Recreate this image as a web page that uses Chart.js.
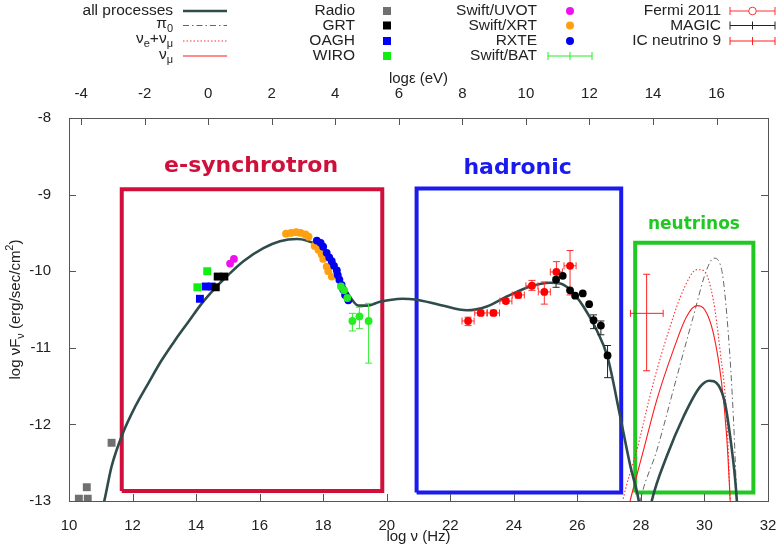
<!DOCTYPE html>
<html>
<head>
<meta charset="utf-8">
<script src="https://cdn.jsdelivr.net/npm/chart.js@4.4.1/dist/chart.umd.min.js"></script>
<style>
  html, body { margin: 0; padding: 0; background: #fff; }
  #wrap { width: 779px; height: 548px; }
</style>
</head>
<body>
<div id="wrap"><canvas id="sed" width="779" height="548"></canvas></div>
<script>
// ---- observed points (log nu [Hz], log nuFnu [erg/s/cm2]) ----
const radioNu = [10.31, 10.56, 10.59, 11.34];
const radioF  = [-12.97, -12.82, -12.97, -12.24];

const grtNu = [14.62, 14.68, 14.89];
const grtF  = [-10.21, -10.07, -10.07];

const oaghNu = [14.12, 14.30, 14.49];
const oaghF  = [-10.36, -10.20, -10.20];

const wiroNu = [14.04, 14.35];
const wiroF  = [-10.21, -10.00];

const uvotNu = [15.07, 15.19];
const uvotF  = [-9.90, -9.84];

const xrtNu = [16.83, 16.99, 17.15, 17.29, 17.44, 17.54, 17.73, 17.85, 17.95, 18.00, 18.11, 18.16, 18.27];
const xrtF  = [-9.51, -9.50, -9.49, -9.50, -9.52, -9.55, -9.67, -9.72, -9.78, -9.84, -9.94, -10.00, -10.07];

const rxteNu = [17.80, 17.92, 18.00, 18.11, 18.19, 18.27, 18.34, 18.43, 18.46, 18.51, 18.58, 18.63, 18.69, 18.79];
const rxteF  = [-9.60, -9.63, -9.68, -9.76, -9.82, -9.87, -9.93, -9.99, -10.05, -10.11, -10.18, -10.24, -10.31, -10.38];

const batNu  = [18.56, 18.66, 18.76, 18.92, 19.14, 19.43];
const batF   = [-10.20, -10.25, -10.35, -10.65, -10.59, -10.65];
const batFLo = [null, null, null, -10.78, -10.75, -11.20];
const batFHi = [null, null, null, -10.55, -10.47, -10.42];

const fermiNu   = [22.56, 22.96, 23.36, 23.75, 24.14, 24.57, 24.96, 25.34, 25.77];
const fermiF    = [-10.65, -10.545, -10.545, -10.39, -10.31, -10.19, -10.27, -10.01, -9.93];
const fermiFLo  = [-10.71, -10.58, -10.58, -10.42, -10.35, -10.25, -10.43, -10.16, -10.31];
const fermiFHi  = [-10.60, -10.51, -10.51, -10.36, -10.27, -10.12, -10.14, -9.875, -9.73];
const fermiNuLo = [22.37, 22.77, 23.17, 23.56, 23.95, 24.38, 24.77, 25.15, 25.58];
const fermiNuHi = [22.75, 23.15, 23.55, 23.94, 24.33, 24.76, 25.15, 25.53, 25.96];

const magicNu  = [25.33, 25.54, 25.77, 25.93, 26.17, 26.37, 26.51, 26.74, 26.95];
const magicF   = [-10.11, -10.06, -10.25, -10.32, -10.29, -10.43, -10.64, -10.71, -11.10];
const magicFLo = [-10.21, null, null, null, null, null, -10.75, -10.83, -11.39];
const magicFHi = [-10.08, null, null, null, null, null, -10.57, -10.65, -10.97];

const icNu = [28.18], icF = [-10.55];
const icNuLo = [27.67], icNuHi = [28.70];
const icFLo = [-11.30], icFHi = [-10.04];

// ---- model curves ----
const allNu = [10.95, 11.11, 11.34, 11.71, 12.08, 12.50, 12.92, 13.34, 13.76, 14.18, 14.60, 15.01, 15.49, 16.12, 16.64, 17.17,
  17.48, 17.80, 18.21, 18.53, 18.84, 19.11, 19.37, 19.79, 20.10, 20.50, 20.89, 21.68, 22.52, 23.15, 23.78, 24.51,
  25.14, 25.46, 25.77, 26.19, 26.61, 26.95, 27.34, 27.66, 27.92, 28.08, 28.20, 28.34, 28.81, 29.34, 29.86, 30.15,
  30.44, 30.65, 30.81, 30.96, 31.02, 31.06];
const allF = [-13.25, -13.0, -12.55, -12.10, -11.77, -11.46, -11.16, -10.90, -10.66, -10.42, -10.22, -10.05, -9.87, -9.70, -9.61, -9.58,
  -9.60, -9.66, -9.87, -10.11, -10.33, -10.45, -10.45, -10.40, -10.375, -10.36, -10.37, -10.44, -10.51, -10.46, -10.33, -10.20,
  -10.15, -10.16, -10.24, -10.46, -10.77, -11.12, -11.88, -12.53, -12.97, -13.4, -13.3, -13.0, -12.42, -11.90, -11.51, -11.43,
  -11.49, -11.73, -12.16, -12.69, -13.0, -13.3];

const pi0Nu = [27.90, 27.98, 28.50, 29.13, 29.65, 30.07, 30.30, 30.54, 30.75, 30.91, 31.02, 31.05];
const pi0F  = [-13.2, -13.0, -12.34, -11.38, -10.59, -9.98, -9.83, -9.98, -10.81, -11.90, -13.0, -13.3];

const nuSumNu = [27.35, 27.43, 27.87, 28.39, 28.92, 29.34, 29.76, 29.97, 30.28, 30.49, 30.70, 30.81, 30.84];
const nuSumF  = [-13.2, -13.0, -12.34, -11.46, -10.72, -10.24, -9.98, -9.99, -10.38, -11.03, -11.90, -13.0, -13.3];

const numuNu = [27.55, 27.66, 28.08, 28.50, 29.02, 29.44, 29.76, 30.02, 30.28, 30.54, 30.70, 30.81, 30.84];
const numuF  = [-13.2, -13.0, -12.34, -11.68, -11.03, -10.59, -10.45, -10.51, -10.81, -11.46, -12.16, -13.0, -13.3];

// ---- axes ----
const nuTicks = [10, 12, 14, 16, 18, 20, 22, 24, 26, 28, 30, 32];
const epsTicks = [-4, -2, 0, 2, 4, 6, 8, 10, 12, 14, 16];
const fluxTicks = [-13, -12, -11, -10, -9, -8];
const logH = -14.38; // log10 of Planck constant in eV s

// region boxes [nuMin, nuMax, fMin, fMax]
const synBox = [11.66, 19.86, -12.87, -8.93];
const hadBox = [20.94, 27.38, -12.89, -8.92];
const neuBox = [27.82, 31.54, -12.89, -9.63];

const pts = (xs, ys) => xs.map((x, i) => ({ x: x, y: ys[i] }));
const boxPts = b => [{x: b[0], y: b[2]}, {x: b[1], y: b[2]}, {x: b[1], y: b[3]}, {x: b[0], y: b[3]}, {x: b[0], y: b[2]}];

const FONT = "'Liberation Sans', Arial, sans-serif";
Chart.defaults.font.family = FONT;
Chart.defaults.color = '#222';

function dots(data, color, style, r) {
  return { data: data, showLine: false, pointStyle: style, pointRadius: r, pointHoverRadius: r,
    backgroundColor: color, borderColor: color, borderWidth: 0 };
}
function curve(data, color, w, dash) {
  return { data: data, showLine: true, pointRadius: 0, borderColor: color, borderWidth: w,
    borderDash: dash || [], cubicInterpolationMode: 'monotone', fill: false };
}
function box(b, color) {
  return { data: boxPts(b), showLine: true, pointRadius: 0, borderColor: color, borderWidth: 4,
    tension: 0, borderJoinStyle: 'miter', fill: false };
}

const datasets = [
  Object.assign(dots(pts(batNu, batF), '#22ee22', 'circle', 3.9), { err: { color: '#33ee33', yLo: batFLo, yHi: batFHi } }),
  dots(pts(uvotNu, uvotF), '#ee11ee', 'circle', 3.9),
  dots(pts(rxteNu, rxteF), '#0000ee', 'circle', 3.9),
  dots(pts(xrtNu, xrtF), '#ffa010', 'circle', 3.9),
  dots(pts(wiroNu, wiroF), '#11ee11', 'rect', 5.6),
  dots(pts(grtNu, grtF), '#000000', 'rect', 5.6),
  dots(pts(oaghNu, oaghF), '#0000ff', 'rect', 5.6),
  dots(pts(radioNu, radioF), '#707070', 'rect', 5.6),
  Object.assign(dots(pts(magicNu, magicF), '#000000', 'circle', 3.9), { err: { color: '#222', yLo: magicFLo, yHi: magicFHi } }),
  Object.assign(dots(pts(fermiNu, fermiF), '#ff0000', 'circle', 3.9),
    { err: { color: '#ff3030', yLo: fermiFLo, yHi: fermiFHi, xLo: fermiNuLo, xHi: fermiNuHi } }),
  Object.assign(dots(pts(icNu, icF), '#ff2020', 'circle', 0),
    { err: { color: '#ff2020', yLo: icFLo, yHi: icFHi, xLo: icNuLo, xHi: icNuHi } }),
  curve(pts(allNu, allF), '#2f4b4b', 2.6),
  curve(pts(numuNu, numuF), '#ff1a1a', 1.1),
  curve(pts(nuSumNu, nuSumF), '#ff3030', 1.1, [1.5, 2]),
  curve(pts(pi0Nu, pi0F), '#666666', 1, [6, 3, 1.5, 3]),
  box(neuBox, '#22c822'),
  box(hadBox, '#1a1aee'),
  box(synBox, '#d0103a')
];

// error bars, drawn just before the points of their dataset
const errorBars = {
  id: 'errorBars',
  beforeDatasetDraw(chart, args) {
    const ds = chart.data.datasets[args.index];
    if (!ds.err) return;
    const e = ds.err, xs = chart.scales.x, ys = chart.scales.y, ctx = chart.ctx, a = chart.chartArea;
    ctx.save();
    ctx.beginPath(); ctx.rect(a.left, a.top, a.right - a.left, a.bottom - a.top); ctx.clip();
    ctx.strokeStyle = e.color; ctx.lineWidth = 1;
    ds.data.forEach((p, i) => {
      const px = xs.getPixelForValue(p.x), py = ys.getPixelForValue(p.y);
      ctx.beginPath();
      if (e.yLo && e.yLo[i] != null) {
        const y1 = ys.getPixelForValue(e.yLo[i]), y2 = ys.getPixelForValue(e.yHi[i]);
        ctx.moveTo(px, y1); ctx.lineTo(px, y2);
        ctx.moveTo(px - 3.5, y1); ctx.lineTo(px + 3.5, y1);
        ctx.moveTo(px - 3.5, y2); ctx.lineTo(px + 3.5, y2);
      }
      if (e.xLo && e.xLo[i] != null) {
        const x1 = xs.getPixelForValue(e.xLo[i]), x2 = xs.getPixelForValue(e.xHi[i]);
        ctx.moveTo(x1, py); ctx.lineTo(x2, py);
        ctx.moveTo(x1, py - 3.5); ctx.lineTo(x1, py + 3.5);
        ctx.moveTo(x2, py - 3.5); ctx.lineTo(x2, py + 3.5);
      }
      ctx.stroke();
    });
    ctx.restore();
  }
};

// gnuplot style inward ticks on all four sides
const inwardTicks = {
  id: 'inwardTicks',
  afterDraw(chart) {
    const ctx = chart.ctx, a = chart.chartArea, L = 7;
    ctx.save();
    ctx.strokeStyle = '#555'; ctx.lineWidth = 1;
    ctx.beginPath();
    chart.scales.x.ticks.forEach(t => { const p = Math.round(chart.scales.x.getPixelForValue(t.value)) + 0.5; ctx.moveTo(p, a.bottom); ctx.lineTo(p, a.bottom - L); });
    chart.scales.x2.ticks.forEach(t => { const p = Math.round(chart.scales.x2.getPixelForValue(t.value)) + 0.5; ctx.moveTo(p, a.top); ctx.lineTo(p, a.top + L); });
    chart.scales.y.ticks.forEach(t => {
      const p = Math.round(chart.scales.y.getPixelForValue(t.value)) + 0.5;
      ctx.moveTo(a.left, p); ctx.lineTo(a.left + L, p);
      ctx.moveTo(a.right, p); ctx.lineTo(a.right - L, p);
    });
    ctx.stroke();
    ctx.restore();
  }
};

// text with sub/superscripts: parts = [[text, kind]], kind 0 normal, 1 sub, 2 sup
function richWidth(ctx, parts, size) {
  let w = 0;
  parts.forEach(p => { ctx.font = (p[1] ? Math.round(size * 0.72) : size) + 'px ' + FONT; w += ctx.measureText(p[0]).width; });
  return w;
}
function drawRich(ctx, parts, x, y, size) {
  ctx.textBaseline = 'middle'; ctx.textAlign = 'left';
  parts.forEach(p => {
    const s = p[1] ? Math.round(size * 0.72) : size;
    ctx.font = s + 'px ' + FONT;
    const dy = p[1] === 1 ? size * 0.35 : (p[1] === 2 ? -size * 0.4 : 0);
    ctx.fillText(p[0], x, y + dy);
    x += ctx.measureText(p[0]).width;
  });
}
function drawRichRight(ctx, parts, xr, y, size) {
  drawRich(ctx, parts, xr - richWidth(ctx, parts, size), y, size);
}

const annotations = {
  id: 'annotations',
  afterDraw(chart) {
    const ctx = chart.ctx, a = chart.chartArea, xs = chart.scales.x, ys = chart.scales.y;
    ctx.save();
    // region labels
    ctx.textAlign = 'center'; ctx.textBaseline = 'middle';
    ctx.font = "bold 22px 'DejaVu Sans', sans-serif";
    ctx.fillStyle = '#d0103a';
    ctx.fillText('e-synchrotron', xs.getPixelForValue(15.73), ys.getPixelForValue(-8.63));
    ctx.fillStyle = '#1a1aee';
    ctx.fillText('hadronic', xs.getPixelForValue(24.12), ys.getPixelForValue(-8.65));
    ctx.font = "bold 17px 'DejaVu Sans', sans-serif";
    ctx.fillStyle = '#22c822';
    ctx.fillText('neutrinos', xs.getPixelForValue(29.67), ys.getPixelForValue(-9.39));

    // axis titles
    ctx.fillStyle = '#222';
    const cx = (a.left + a.right) / 2;
    const bt = [['log ν (Hz)', 0]];
    drawRich(ctx, bt, cx - richWidth(ctx, bt, 15) / 2, a.bottom + 36, 15);
    const tt = [['logε (eV)', 0]];
    drawRich(ctx, tt, cx - richWidth(ctx, tt, 15) / 2, a.top - 39, 15);
    ctx.save();
    ctx.translate(16, (a.top + a.bottom) / 2);
    ctx.rotate(-Math.PI / 2);
    const yt = [['log νF', 0], ['ν', 1], [' (erg/sec/cm', 0], ['2', 2], [')', 0]];
    drawRich(ctx, yt, -richWidth(ctx, yt, 15) / 2, 0, 15);
    ctx.restore();

    // legend
    const fs = 15.5, rows = [11, 25.5, 41, 56];
    ctx.fillStyle = '#222';
    drawRichRight(ctx, [['all processes', 0]], 173, rows[0], fs);
    drawRichRight(ctx, [['π', 0], ['0', 1]], 173, rows[1] - 2, fs);
    drawRichRight(ctx, [['ν', 0], ['e', 1], ['+ν', 0], ['μ', 1]], 173, rows[2] - 2, fs);
    drawRichRight(ctx, [['ν', 0], ['μ', 1]], 173, rows[3] - 1, fs);
    const seg = (x1, x2, y, color, w, dash) => {
      ctx.save(); ctx.strokeStyle = color; ctx.lineWidth = w; ctx.setLineDash(dash || []);
      ctx.beginPath(); ctx.moveTo(x1, y); ctx.lineTo(x2, y); ctx.stroke(); ctx.restore();
    };
    seg(183, 227, rows[0], '#2f4b4b', 2.6);
    seg(183, 227, rows[1], '#666', 1, [6, 3, 1.5, 3]);
    seg(183, 227, rows[2], '#ff3030', 1, [1.5, 2]);
    seg(183, 227, rows[3], '#ff1a1a', 1.1);

    const col2 = ['Radio', 'GRT', 'OAGH', 'WIRO'], col2c = ['#707070', '#000', '#0000ff', '#11ee11'];
    col2.forEach((t, i) => {
      ctx.fillStyle = '#222';
      drawRichRight(ctx, [[t, 0]], 355, rows[i], fs);
      ctx.fillStyle = col2c[i];
      ctx.fillRect(383, rows[i] - 4, 8, 8);
    });

    const col3 = ['Swift/UVOT', 'Swift/XRT', 'RXTE'], col3c = ['#ee11ee', '#ffa010', '#0000ee'];
    col3.forEach((t, i) => {
      ctx.fillStyle = '#222';
      drawRichRight(ctx, [[t, 0]], 537, rows[i], fs);
      ctx.fillStyle = col3c[i];
      ctx.beginPath(); ctx.arc(570, rows[i], 4, 0, Math.PI * 2); ctx.fill();
    });
    ctx.fillStyle = '#222';
    drawRichRight(ctx, [['Swift/BAT', 0]], 537, rows[3], fs);

    const errKey = (x1, x2, y, color, circle) => {
      ctx.save(); ctx.strokeStyle = color; ctx.lineWidth = 1;
      ctx.beginPath();
      ctx.moveTo(x1, y); ctx.lineTo(x2, y);
      ctx.moveTo(x1, y - 4); ctx.lineTo(x1, y + 4);
      ctx.moveTo(x2, y - 4); ctx.lineTo(x2, y + 4);
      const m = (x1 + x2) / 2;
      if (!circle) { ctx.moveTo(m, y - 4); ctx.lineTo(m, y + 4); }
      ctx.stroke();
      if (circle) { ctx.fillStyle = '#fff'; ctx.beginPath(); ctx.arc(m, y, 3.8, 0, Math.PI * 2); ctx.fill(); ctx.stroke(); }
      ctx.restore();
    };
    errKey(548, 592, rows[3], '#22ee22');

    const col4 = ['Fermi 2011', 'MAGIC', 'IC neutrino 9'], col4c = ['#ff3030', '#222', '#ff2020'];
    col4.forEach((t, i) => {
      ctx.fillStyle = '#222';
      drawRichRight(ctx, [[t, 0]], 721, rows[i], fs);
      errKey(730, 775, rows[i], col4c[i], i === 0);
    });
    ctx.restore();
  }
};

const noPadX = h => s => { s.height = h; s.paddingLeft = 0; s.paddingRight = 0; };
const noPadY = w => s => { s.width = w; s.paddingTop = 0; s.paddingBottom = 0; };

new Chart(document.getElementById('sed'), {
  type: 'scatter',
  data: { datasets: datasets },
  options: {
    responsive: false,
    animation: false,
    layout: { padding: 0 },
    plugins: { legend: { display: false }, tooltip: { enabled: false } },
    scales: {
      x: {
        type: 'linear', position: 'bottom', min: 10, max: 32,
        afterBuildTicks: s => { s.ticks = nuTicks.map(v => ({ value: v })); },
        afterFit: noPadX(47),
        grid: { display: false },
        border: { display: true, color: '#555', width: 1 },
        ticks: { font: { size: 15 }, color: '#222', padding: 8, maxRotation: 0 }
      },
      x2: {
        type: 'linear', position: 'top', min: 10 + logH, max: 32 + logH,
        afterBuildTicks: s => { s.ticks = epsTicks.map(v => ({ value: v })); },
        afterFit: noPadX(118),
        grid: { display: false },
        border: { display: true, color: '#555', width: 1 },
        ticks: { font: { size: 15 }, color: '#222', padding: 7, maxRotation: 0 }
      },
      y: {
        type: 'linear', position: 'left', min: -13, max: -8,
        afterBuildTicks: s => { s.ticks = fluxTicks.map(v => ({ value: v })); },
        afterFit: noPadY(69),
        grid: { display: false },
        border: { display: true, color: '#555', width: 1 },
        ticks: { font: { size: 15 }, color: '#222', padding: 10 }
      },
      y2: {
        type: 'linear', position: 'right', min: -13, max: -8,
        afterFit: noPadY(11),
        grid: { display: false },
        border: { display: true, color: '#555', width: 1 },
        ticks: { display: false }
      }
    }
  },
  plugins: [errorBars, inwardTicks, annotations]
});
</script>
</body>
</html>
